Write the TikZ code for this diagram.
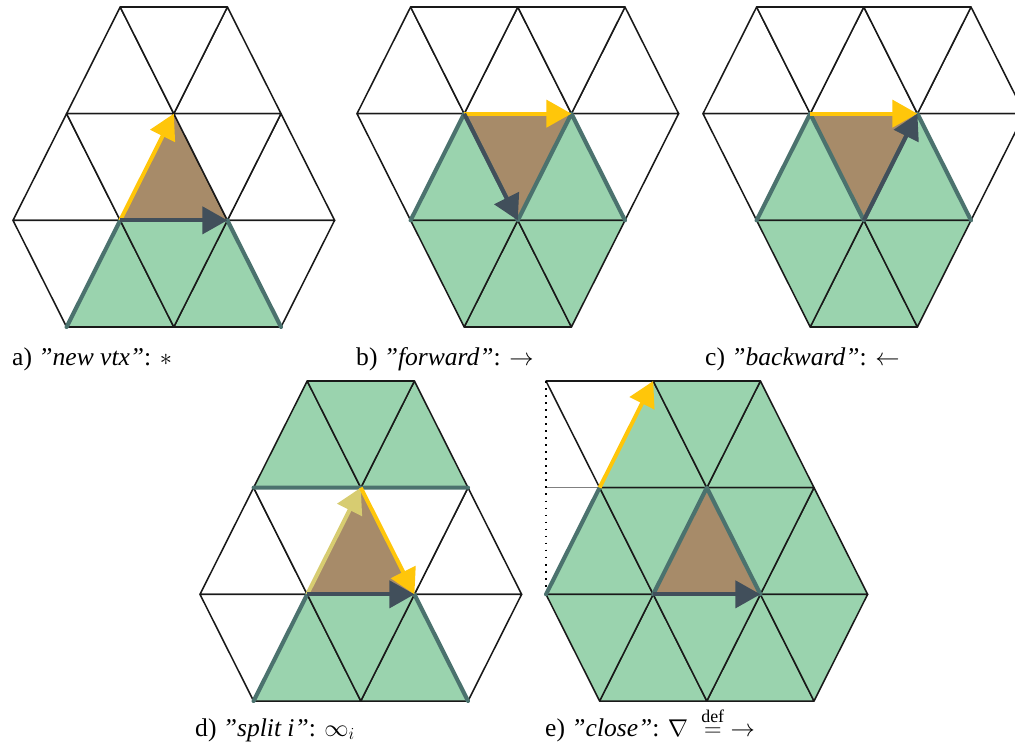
\documentclass[tikz,border=0pt]{standalone}
\usepackage{fontspec}
\setmainfont{Liberation Serif}
\usetikzlibrary{arrows.meta}
\definecolor{cgreen}{HTML}{9AD3AE}
\definecolor{cbrown}{HTML}{A78B69}
\definecolor{cteal}{HTML}{4B726E}
\definecolor{cslate}{HTML}{414F5B}
\definecolor{cyellow}{HTML}{FFC60A}
\definecolor{cpale}{HTML}{D7CC71}
\tikzset{
  every picture/.style={line join=round},
  mesh/.style={draw=black!90, line width=1.3pt},
  rim/.style={draw=cteal, line width=3.5pt, line cap=round},
  dart/.style={-{Triangle[length=7.5mm, width=8.1mm]}, draw=#1, line width=3.4pt},
  dart/.default=cslate,
  lattice/.style={x=1.608cm, y=-3.2cm},
  caption/.style={font=\fontsize{21.8}{26}\selectfont, inner sep=0pt, anchor=base west},
}
% one triangle of the mesh: up (apex on row r) or down (tip on row r+1)
\newcommand{\utri}[3]{\filldraw[mesh, fill=#3] (#1,#2) -- ({#1-1},{#2+1}) -- ({#1+1},{#2+1}) -- cycle;}
\newcommand{\dtri}[3]{\filldraw[mesh, fill=#3] ({#1-1},#2) -- ({#1+1},#2) -- (#1,{#2+1}) -- cycle;}
% named lattice points (p<column><row>)
\newcommand{\grid}[1]{\foreach \i in {0,...,6} \foreach \j in {0,...,3} \coordinate (#1\i\j) at (\i,\j);}

\begin{document}
\begin{tikzpicture}[x=0.3mm, y=-0.3mm]
  \clip (0,0) rectangle (1015,747);
  % a) new vtx
  \begin{scope}[shift={(13,7)}, lattice]
    \grid{a}
    \foreach \c/\r/\f in {2/0/white, 4/0/white, 1/1/white, 3/1/cbrown, 5/1/white, 2/2/cgreen, 4/2/cgreen} \utri{\c}{\r}{\f};
    \foreach \c/\r/\f in {3/0/white, 2/1/white, 4/1/white, 1/2/white, 3/2/cgreen, 5/2/white} \dtri{\c}{\r}{\f};
    \draw[rim] (a13) -- (a22) (a42) -- (a53);
    \draw[dart=cyellow] (a22) -- (a31);
    \draw[dart] (a22) -- (a42);
  \end{scope}
  % b) forward
  \begin{scope}[shift={(357,7)}, lattice]
    \grid{b}
    \foreach \c/\r/\f in {1/0/white, 3/0/white, 5/0/white, 2/1/cgreen, 4/1/cgreen, 3/2/cgreen} \utri{\c}{\r}{\f};
    \foreach \c/\r/\f in {2/0/white, 4/0/white, 1/1/white, 3/1/cbrown, 5/1/white, 2/2/cgreen, 4/2/cgreen} \dtri{\c}{\r}{\f};
    \draw[rim] (b12) -- (b21) -- (b32) -- (b41) -- (b52);
    \draw[dart=cyellow] (b21) -- (b41);
    \draw[dart] (b21) -- (b32);
  \end{scope}
  % c) backward
  \begin{scope}[shift={(703,7)}, lattice]
    \grid{c}
    \foreach \c/\r/\f in {1/0/white, 3/0/white, 5/0/white, 2/1/cgreen, 4/1/cgreen, 3/2/cgreen} \utri{\c}{\r}{\f};
    \foreach \c/\r/\f in {2/0/white, 4/0/white, 1/1/white, 3/1/cbrown, 5/1/white, 2/2/cgreen, 4/2/cgreen} \dtri{\c}{\r}{\f};
    \draw[rim] (c12) -- (c21) -- (c32) -- (c41) -- (c52);
    \draw[dart=cyellow] (c21) -- (c41);
    \draw[dart] (c32) -- (c41);
  \end{scope}
  % d) split i
  \begin{scope}[shift={(200,381)}, lattice]
    \grid{d}
    \foreach \c/\r/\f in {2/0/cgreen, 4/0/cgreen, 1/1/white, 3/1/cbrown, 5/1/white, 2/2/cgreen, 4/2/cgreen} \utri{\c}{\r}{\f};
    \foreach \c/\r/\f in {3/0/cgreen, 2/1/white, 4/1/white, 1/2/white, 3/2/cgreen, 5/2/white} \dtri{\c}{\r}{\f};
    \draw[rim] (d11) -- (d51) (d13) -- (d22) (d42) -- (d53);
    \draw[dart=cpale] (d22) -- (d31);
    \draw[dart] (d22) -- (d42);
    \draw[dart=cyellow] (d31) -- (d42);
  \end{scope}
  % e) close
  \begin{scope}[shift={(546,381)}, lattice]
    \grid{e}
    \foreach \c/\r/\f in {2/0/cgreen, 4/0/cgreen, 1/1/cgreen, 3/1/cbrown, 5/1/cgreen, 2/2/cgreen, 4/2/cgreen} \utri{\c}{\r}{\f};
    \foreach \c/\r/\f in {1/0/white, 3/0/cgreen, 2/1/cgreen, 4/1/cgreen, 1/2/cgreen, 3/2/cgreen, 5/2/cgreen} \dtri{\c}{\r}{\f};
    \draw[gray, line width=0.6pt] (e01) -- (e11);
    \draw[line width=1.5pt, dash pattern=on 1.5pt off 4.5pt] (e00) -- (e02);
    \draw[rim] (e02) -- (e11) (e22) -- (e31) -- (e42);
    \draw[dart=cyellow] (e11) -- (e20);
    \draw[dart] (e22) -- (e42);
  \end{scope}
  % captions
  \node[caption] (capa) at (12,365) {a) \textit{”new vtx”}: $\ast$};
  \node[caption] (capb) at (356,365) {b) \textit{”forward”}: $\rightarrow$};
  \node[caption] (capc) at (705,365) {c) \textit{”backward”}: $\leftarrow$};
  \node[caption] (capd) at (195,736) {d) \textit{”split i”}: $\infty_i$};
  \node[caption] (cape) at (545,736) {e) \textit{”close”}: $\nabla\ \stackrel{\raisebox{0.25ex}{$\scriptstyle\mathrm{def}$}}{=}\ \rightarrow$};
\end{tikzpicture}
\end{document}
